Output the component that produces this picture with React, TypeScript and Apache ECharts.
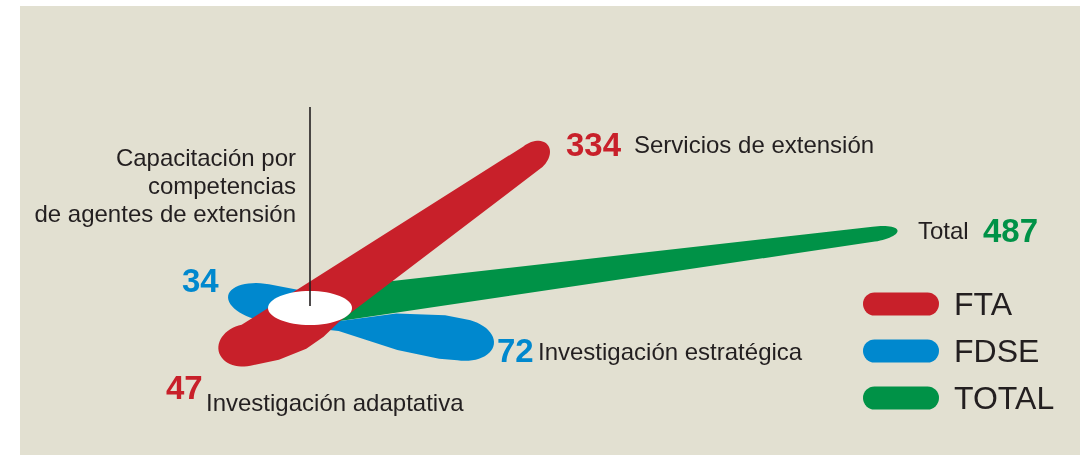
import React, { useEffect, useRef } from 'react';
import * as echarts from 'echarts';

// ---------- data ----------
const seriesNames = ['FTA', 'FDSE', 'TOTAL'];
const ftaCategories = ['Servicios de extensión', 'Investigación adaptativa'];
const ftaValues = [334, 47];
const fdseCategories = ['Investigación estratégica', 'Capacitación por competencias de agentes de extensión'];
const fdseValues = [72, 34];
const totalCategories = ['Total'];
const totalValues = [487];

// ---------- layout / style ----------
const RADIUS_MIN = -84;
const RADIUS_MAX = 487;
const TILT = 0.45;
const ftaAngles = [60.4, 205.5];
const fdseAngles = [343, 157.5];
const totalAngles = [18.9];

const RED = '#C8202A';
const BLUE = '#0088CE';
const GREEN = '#009247';
const BEIGE = '#E2E0D1';
const DARK = '#231F20';
const FONT = '"Liberation Sans", Arial, Helvetica, sans-serif';

type Lobe = { r: number; left: number[][]; right: number[][] };

const ftaLobes: Lobe[] = [
  { r: 20, left: [[1, 23]], right: [[0, 0], [1, 5]] },
  { r: 28, left: [[0, 0], [0.2, 12], [0.4, 20], [0.7, 25], [1, 25]], right: [[1, 17]] },
];
const fdseLobes: Lobe[] = [
  { r: 34, left: [[0, 0], [0.45, 15], [0.85, 20], [1, 19]], right: [[0, 10], [0.5, 21], [0.85, 24], [1, 23]] },
  { r: 38, left: [[0.3, 12], [1, 14]], right: [[0, 0], [0.25, 18], [0.55, 23], [1, 23]] },
];
const totalLobes: Lobe[] = [
  { r: 24, left: [[0, 34], [1, 12]], right: [[0, 0], [1, 3]] },
];

function makeRender(lobes: Lobe[], color: string) {
  return (_params: any, api: any) => {
    const hub = api.coord([RADIUS_MIN, 0]);
    const pts: number[][] = [];
    lobes.forEach((lobe, i) => {
      const p = api.coord([api.value(i * 2), api.value(i * 2 + 1)]);
      const T = [p[0], hub[1] + (p[1] - hub[1]) * TILT];
      const dx = T[0] - hub[0];
      const dy = T[1] - hub[1];
      const L = Math.hypot(dx, dy);
      const d = [dx / L, dy / L];
      const n = [d[1], -d[0]];
      const body = L - lobe.r;
      const at = (t: number, s: number) => [hub[0] + d[0] * t + n[0] * s, hub[1] + d[1] * t + n[1] * s];
      lobe.left.forEach(([f, o]) => pts.push(at(f * body, o)));
      const oL = lobe.left[lobe.left.length - 1][1];
      const oR = lobe.right[lobe.right.length - 1][1];
      const c = (oL - oR) / 2;
      const h = (oL + oR) / 2;
      const N = 28;
      for (let k = 1; k < N; k++) {
        const ph = (Math.PI * k) / N;
        pts.push(at(body + lobe.r * Math.sin(ph), c + h * Math.cos(ph)));
      }
      [...lobe.right].reverse().forEach(([f, o]) => pts.push(at(f * body, -o)));
    });
    return { type: 'polygon', shape: { points: pts }, style: { fill: color }, silent: true };
  };
}

function buildItem(values: number[], angles: number[]) {
  const item: number[] = [];
  values.forEach((v, i) => {
    item.push(v, angles[i]);
  });
  return item;
}

function text(x: number, y: number, t: string, opts: any = {}) {
  return {
    type: 'text',
    x,
    y,
    z: 100,
    silent: true,
    style: {
      text: t,
      fill: opts.fill || DARK,
      fontSize: opts.size || 24,
      fontWeight: opts.bold ? 'bold' : 'normal',
      fontFamily: FONT,
      textAlign: opts.align || 'left',
      textVerticalAlign: 'middle',
      lineHeight: opts.lineHeight,
    },
  };
}

export default function App() {
  const ref = useRef<HTMLDivElement>(null);
  useEffect(() => {
    if (!ref.current) return;
    const chart = echarts.init(ref.current, undefined, { renderer: 'svg' });
    const capsule = 'path://M11.5,0H64.5A11.5,11.5,0,0,1,64.5,23H11.5A11.5,11.5,0,0,1,11.5,0Z';
    const seriesCommon = {
      type: 'custom',
      coordinateSystem: 'polar',
      polarIndex: 0,
      dimensions: ['r1', 'a1', 'r2', 'a2'],
      encode: { radius: 'r1', angle: 'a1' },
      silent: true,
    };
    chart.setOption({
      animation: false,
      polar: { center: [340, 321], radius: 590 },
      angleAxis: { type: 'value', min: 0, max: 360, startAngle: 0, clockwise: false, show: false },
      radiusAxis: { type: 'value', min: RADIUS_MIN, max: RADIUS_MAX, show: false },
      legend: {
        data: seriesNames,
        orient: 'vertical',
        left: 863,
        top: 288,
        padding: 0,
        itemWidth: 76,
        itemHeight: 23,
        itemGap: 15,
        icon: capsule,
        selectedMode: false,
        textStyle: { fontSize: 32, color: DARK, fontFamily: FONT, padding: [0, 0, 0, 10] },
      },
      series: [
        {
          ...seriesCommon,
          name: seriesNames[2],
          z: 2,
          itemStyle: { color: GREEN },
          data: [buildItem(totalValues, totalAngles)],
          renderItem: makeRender(totalLobes, GREEN),
        },
        {
          ...seriesCommon,
          name: seriesNames[1],
          z: 3,
          itemStyle: { color: BLUE },
          data: [buildItem(fdseValues, fdseAngles)],
          renderItem: makeRender(fdseLobes, BLUE),
        },
        {
          ...seriesCommon,
          name: seriesNames[0],
          z: 4,
          itemStyle: { color: RED },
          data: [buildItem(ftaValues, ftaAngles)],
          renderItem: makeRender(ftaLobes, RED),
        },
      ],
      graphic: [
        { type: 'rect', z: -10, silent: true, shape: { x: 20, y: 6, width: 1060, height: 449 }, style: { fill: BEIGE } },
        { type: 'ellipse', z: 90, silent: true, shape: { cx: 310, cy: 308, rx: 42, ry: 17 }, style: { fill: '#FFFFFF' } },
        { type: 'line', z: 95, silent: true, shape: { x1: 310, y1: 107, x2: 310, y2: 306 }, style: { stroke: DARK, lineWidth: 1.6 } },
        text(566, 144, String(ftaValues[0]), { bold: true, size: 33, fill: RED }),
        text(634, 144, ftaCategories[0]),
        text(918, 230, totalCategories[0]),
        text(983, 230, String(totalValues[0]), { bold: true, size: 33, fill: GREEN }),
        text(182, 280, String(fdseValues[1]), { bold: true, size: 33, fill: BLUE }),
        text(497, 350, String(fdseValues[0]), { bold: true, size: 33, fill: BLUE }),
        text(538, 351, fdseCategories[0]),
        text(166, 387, String(ftaValues[1]), { bold: true, size: 33, fill: RED }),
        text(206, 402, ftaCategories[1]),
        text(296, 185, 'Capacitación por\ncompetencias\nde agentes de extensión', { align: 'right', lineHeight: 28 }),
      ],
    });
    return () => chart.dispose();
  }, []);
  return <div ref={ref} style={{ position: 'fixed', left: 0, top: 0, width: 1086, height: 455 }} />;
}
